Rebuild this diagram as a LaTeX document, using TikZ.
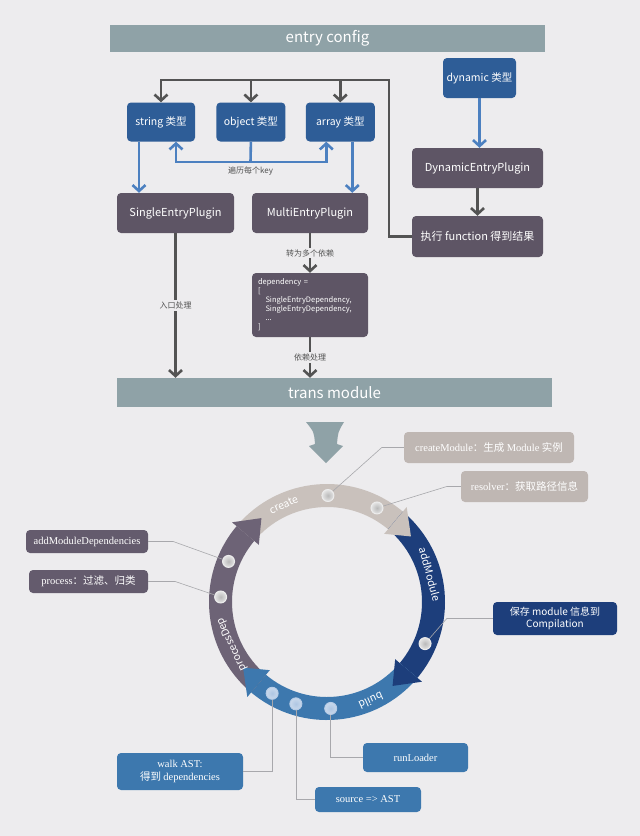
\documentclass[tikz,border=0pt]{standalone}
\usepackage{fontspec}
\setmainfont{Noto Sans CJK SC}
\newfontfamily\enserif{Liberation Serif}
\usepackage{tikz}
\usetikzlibrary{arrows.meta,positioning}

\definecolor{bg}{HTML}{EDECEE}
\definecolor{barcol}{HTML}{8FA2A7}
\definecolor{typeblue}{HTML}{2E5D97}
\definecolor{plugin}{HTML}{5E5565}
\definecolor{linegray}{HTML}{535353}
\definecolor{lineblue}{HTML}{4C80C0}
\definecolor{createcol}{HTML}{C9C1BC}
\definecolor{addcol}{HTML}{1D3E7B}
\definecolor{buildcol}{HTML}{3D78AE}
\definecolor{depcol}{HTML}{6D6376}
\definecolor{leadcol}{HTML}{A8A8AC}

\newcommand{\en}[1]{{\enserif #1}}

\tikzset{
  bar/.style={fill=barcol, text=white, minimum width=435pt, font=\fontsize{15}{18}\selectfont},
  typebox/.style={fill=typeblue, rounded corners=4pt, text=white, minimum height=39pt,
    font=\fontsize{10.5}{12}\selectfont},
  plugbox/.style={fill=plugin, rounded corners=4pt, text=white, minimum width=117pt,
    minimum height=40pt, font=\fontsize{11}{13}\selectfont},
  darkarrow/.style={draw=linegray, line width=2.6pt, -{Straight Barb[length=6pt,width=13pt]}},
  blueline/.style={draw=lineblue, line width=2.6pt},
  bluearrow/.style={blueline, -{Straight Barb[length=6pt,width=13pt]}},
  note/.style={fill=bg, text=linegray, inner sep=1.5pt, font=\fontsize{8}{9}\selectfont},
  ringtext/.style={text=white, font=\fontsize{10.5}{12}\selectfont},
  callout/.style={rounded corners=4pt, text=white, align=center, font=\fontsize{10.5}{12.5}\selectfont},
  dot/.style={circle, minimum size=12pt, inner sep=0pt, draw=white!85!gray, line width=1pt,
    inner color=gray!55, outer color=gray!20!white},
  bluedot/.style={dot, draw=white!60!lineblue, inner color=lineblue!45!white, outer color=lineblue!30!white},
  leader/.style={draw=leadcol, line width=0.6pt}
}

\begin{document}
\begin{tikzpicture}[x=1pt, y=-1pt]
  \fill[bg] (0,0) rectangle (640,836);
  \useasboundingbox (0,0) rectangle (640,836);

  % entry config
  \node[bar, minimum height=27pt] (entry) at (327.5,38.5) {entry config};
  \node[typebox, minimum width=68pt] (str) at (161,122) {string 类型};
  \node[typebox, minimum width=69pt, right=21pt of str] (obj) {object 类型};
  \node[typebox, minimum width=69pt, right=20pt of obj] (arr) {array 类型};
  \node[typebox, minimum width=73pt, minimum height=40pt] (dyn) at (479.5,78) {dynamic 类型};
  \node[plugbox, minimum width=131pt] (dplug) at (477.5,168) {DynamicEntryPlugin};
  \node[plugbox, minimum width=131pt, minimum height=41pt] (exec) at (477.5,236.5) {执行 function 得到结果};
  \node[plugbox] (single) at (175.5,213) {SingleEntryPlugin};
  \node[plugbox, minimum width=116pt] (multi) at (310,213) {MultiEntryPlugin};
  \node[plugbox, minimum width=116pt, minimum height=64pt, text width=104pt, align=left,
        font=\fontsize{7.5}{9}\selectfont] (deps) at (310,305)
       {dependency =\\{[}\\\quad SingleEntryDependency,\\\quad SingleEntryDependency,\\\quad ...\\{]}};
  \node[bar, minimum height=29pt] (trans) at (334.5,392.5) {trans module};

  \coordinate (ret) at (389,80);
  \draw[darkarrow] (exec.west) -| (ret) -| (str.north);
  \draw[darkarrow] (ret -| obj.north) -- (obj.north);
  \draw[darkarrow] (ret -| arr.north) -- (arr.north);

  \coordinate (loop) at (250.5,162);
  \draw[blueline] (obj.south) -- (loop);
  \draw[bluearrow] (loop) -| ([xshift=15pt]str.south);
  \draw[bluearrow] (loop) -| ([xshift=-14pt]arr.south);
  \node[note, below=3pt of loop] (each) {遍历每个key};

  \draw[bluearrow] ([xshift=-22pt]str.south) -- ([xshift=-22pt]str.south |- single.north);
  \draw[bluearrow] ([xshift=12pt]arr.south) -- ([xshift=12pt]arr.south |- multi.north);
  \draw[bluearrow] (dyn.south) -- (dyn.south |- dplug.north);
  \draw[darkarrow] (dplug) -- (exec);

  \draw[darkarrow] (single) -- (single |- trans.north) node[note, midway] {入口处理};
  \draw[darkarrow] (multi) -- (deps) node[note, midway] {转为多个依赖};
  \draw[darkarrow] (deps) -- (deps |- trans.north) node[note, midway] {依赖处理};

  % big arrow
  \fill[barcol] (306,422) -- (344,422) .. controls (338,432) .. (337,444) -- (343,446)
    -- (326,463) -- (309,446) -- (315,444) .. controls (314,432) .. (306,422) -- cycle;

  % module cycle
  \begin{scope}[shift={(327,602)}]
    \foreach \a/\col in {-140/createcol, -50/addcol, 40/buildcol, 130/depcol}
      \fill[\col] (\a:95) arc[start angle=\a, end angle=\a+90, radius=95]
        -- ({\a+90}:118) arc[start angle=\a+90, end angle=\a, radius=118] -- cycle;
    \foreach \a/\col in {-140/createcol, -50/addcol, 40/buildcol, 130/depcol}
      \fill[\col] ({\a+90}:89) -- ({\a+102}:106.5) -- ({\a+90}:124) -- cycle;

    \node[ringtext, rotate=24] (lcreate) at (-114:106.5) {create};
    \node[ringtext, rotate=-75] (ladd) at (-15:106.5) {addModule};
    \node[ringtext, rotate=-156] (lbuild) at (66:108) {build};
    \node[ringtext, rotate=114] (lproc) at (156:104) {processDep};

    \node[dot] (c1) at (-89.5:106.5) {};
    \node[dot] (c2) at (-62:106.5) {};
    \node[dot] (a1) at (23:106.5) {};
    \node[bluedot] (b1) at (88:106.5) {};
    \node[bluedot] (b2) at (107:106.5) {};
    \node[bluedot] (b3) at (121:106.5) {};
    \node[dot] (p1) at (202.4:106.5) {};
    \node[dot] (p2) at (182.7:106.5) {};
  \end{scope}

  % callouts
  \node[callout, fill=createcol!95!black, minimum width=170pt, minimum height=31pt] (cm) at (489,447.5)
       {\en{createModule}：生成 \en{Module} 实例};
  \node[callout, fill=createcol!95!black, minimum width=127pt, minimum height=31pt] (rs) at (524.5,486.5)
       {\en{resolver}：获取路径信息};
  \node[callout, fill=addcol, minimum width=124pt, minimum height=33pt,
        font=\fontsize{10}{12}\selectfont] (sv) at (555,618.5) {保存 module 信息到\\Compilation};
  \node[callout, fill=buildcol, minimum width=105pt, minimum height=29pt] (rl) at (415.5,757.5) {\en{runLoader}};
  \node[callout, fill=buildcol, minimum width=106pt, minimum height=25pt] (sa) at (368,799.5) {\en{source => AST}};
  \node[callout, fill=buildcol, minimum width=126pt, minimum height=37pt] (wk) at (180,771.5)
       {\en{walk AST:}\\得到 \en{dependencies}};
  \node[callout, fill=depcol!92!black, minimum width=122pt, minimum height=23pt] (amd) at (87,541.5)
       {\en{addModuleDependencies}};
  \node[callout, fill=depcol!92!black, minimum width=119pt, minimum height=23pt] (pr) at (88.5,581.5)
       {\en{process}：过滤、归类};

  \draw[leader] (c1) -- ([xshift=-22pt]cm.west) -- (cm.west);
  \draw[leader] (c2) -- ([xshift=-14pt]rs.west) -- (rs.west);
  \draw[leader] (a1) -- ([xshift=-46pt]sv.west) -- (sv.west);
  \draw[leader] (b1) |- (rl.west);
  \draw[leader] (b2) |- (sa.west);
  \draw[leader] (b3) |- (wk.east);
  \draw[leader] (p1) -- ([xshift=25pt]amd.east) -- (amd.east);
  \draw[leader] (p2) -- ([xshift=27pt]pr.east) -- (pr.east);
\end{tikzpicture}
\end{document}
